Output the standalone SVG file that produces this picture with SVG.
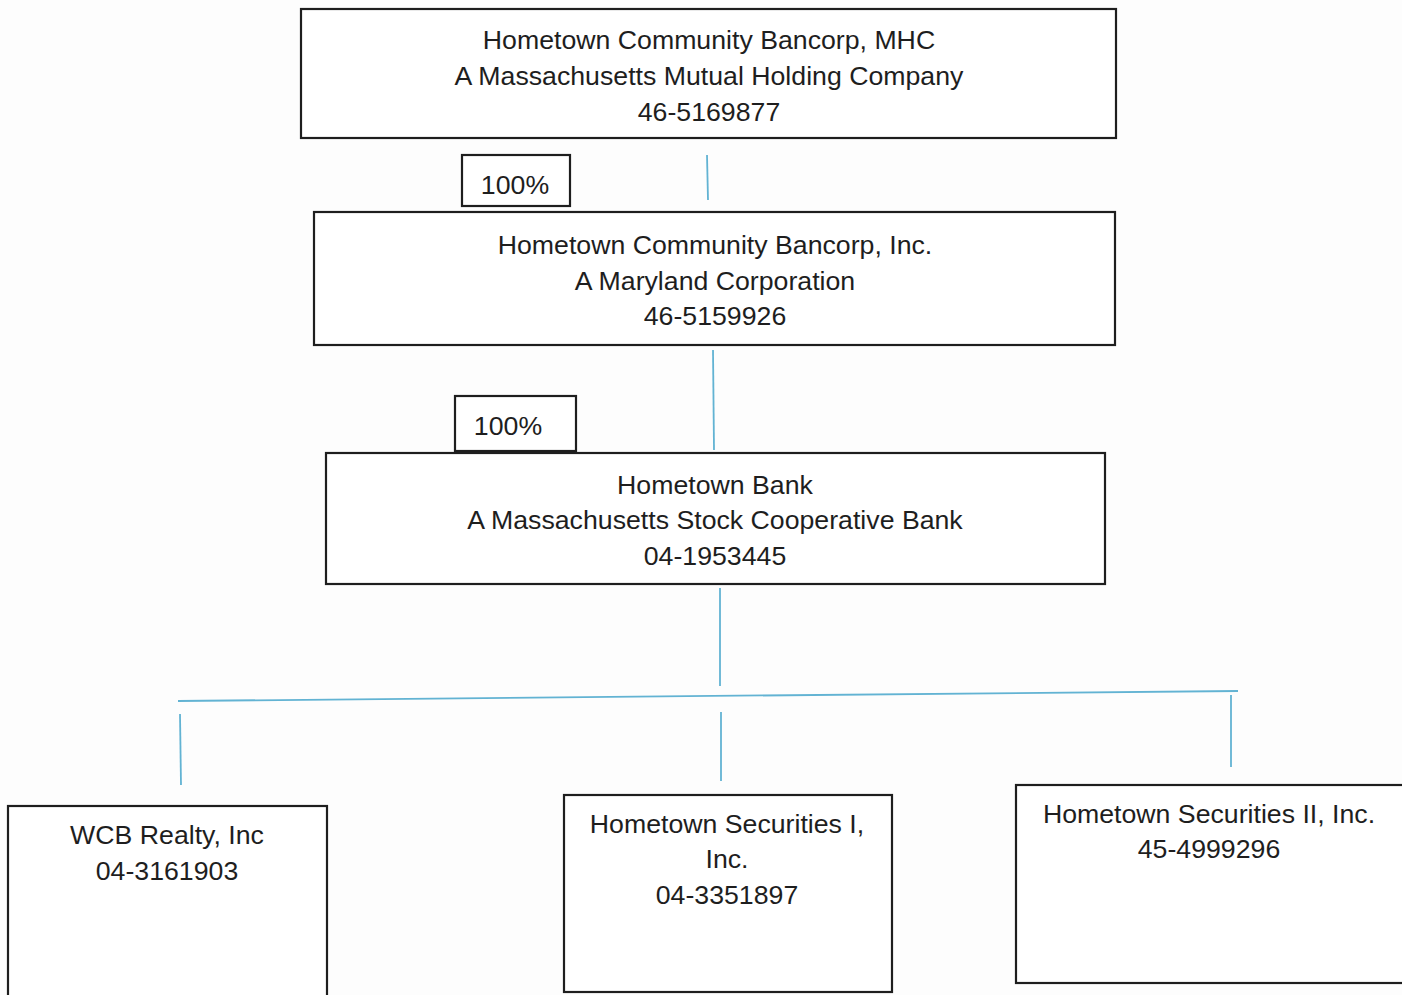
<svg xmlns="http://www.w3.org/2000/svg" width="1402" height="995" viewBox="0 0 1402 995">
<style>
.box{fill:#fff;stroke:#1e1e1e;stroke-width:2.2}
.t{font-family:"Liberation Sans",Arial,sans-serif;font-size:26.7px;fill:#1e1e1e;text-anchor:middle}
.c{stroke:#62b3d3;stroke-width:1.8;fill:none}
</style>
<rect width="1402" height="995" fill="#fdfdfd"/>
<g id="connectors">
<line class="c" x1="707" y1="155" x2="708" y2="200"/>
<line class="c" x1="713" y1="350" x2="714" y2="450"/>
<line class="c" x1="720" y1="588" x2="720" y2="686"/>
<line class="c" x1="178" y1="701" x2="1238" y2="691"/>
<line class="c" x1="180" y1="714" x2="181" y2="785"/>
<line class="c" x1="721" y1="712" x2="721" y2="781"/>
<line class="c" x1="1231" y1="695" x2="1231" y2="767"/>
</g>
<g id="mhc">
<rect class="box" x="301" y="9" width="815" height="129"/>
<text class="t" x="709" y="49">Hometown Community Bancorp, MHC</text>
<text class="t" x="709" y="85">A Massachusetts Mutual Holding Company</text>
<text class="t" x="709" y="121">46-5169877</text>
</g>
<g id="pct1">
<rect class="box" x="462" y="155" width="108" height="51"/>
<text class="t" x="515" y="194">100%</text>
</g>
<g id="inc">
<rect class="box" x="314" y="212" width="801" height="133"/>
<text class="t" x="715" y="254">Hometown Community Bancorp, Inc.</text>
<text class="t" x="715" y="290">A Maryland Corporation</text>
<text class="t" x="715" y="325">46-5159926</text>
</g>
<g id="pct2">
<rect class="box" x="455" y="396" width="121" height="55"/>
<text class="t" x="508" y="435">100%</text>
</g>
<g id="bank">
<rect class="box" x="326" y="453" width="779" height="131"/>
<text class="t" x="715" y="494">Hometown Bank</text>
<text class="t" x="715" y="529">A Massachusetts Stock Cooperative Bank</text>
<text class="t" x="715" y="565">04-1953445</text>
</g>
<g id="wcb">
<rect class="box" x="8" y="806" width="319" height="195"/>
<text class="t" x="167" y="844">WCB Realty, Inc</text>
<text class="t" x="167" y="880">04-3161903</text>
</g>
<g id="sec1">
<rect class="box" x="564" y="795" width="328" height="197"/>
<text class="t" x="727" y="833">Hometown Securities I,</text>
<text class="t" x="727" y="868">Inc.</text>
<text class="t" x="727" y="904">04-3351897</text>
</g>
<g id="sec2">
<rect class="box" x="1016" y="785" width="392" height="198"/>
<text class="t" x="1209" y="823">Hometown Securities II, Inc.</text>
<text class="t" x="1209" y="858">45-4999296</text>
</g>
</svg>
